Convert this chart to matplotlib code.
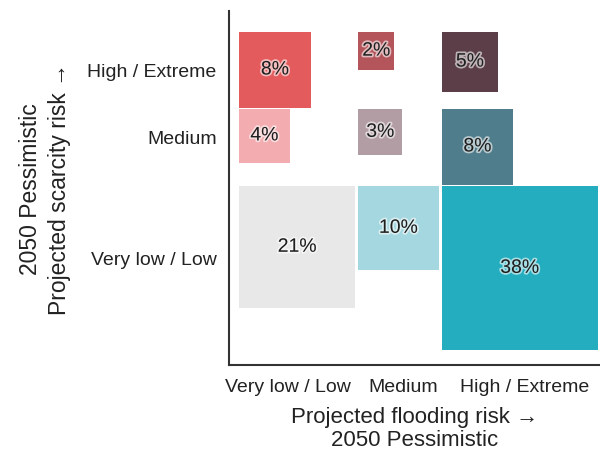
# bivariate square chart: flooding vs scarcity risk, 2050 pessimistic
import numpy as np
import matplotlib.pyplot as plt
import matplotlib.patheffects as pe
from matplotlib.patches import Rectangle

plt.rcParams["font.family"] = ["Liberation Sans", "DejaVu Sans"]

# %% data
flood_levels = ["Very low / Low", "Medium", "High / Extreme"]   # columns
scarcity_levels = ["High / Extreme", "Medium", "Very low / Low"]  # rows, top to bottom
# share of area in each cell, rows = scarcity (top->bottom), cols = flooding
pct = np.array([
    [8, 2, 5],
    [4, 3, 8],
    [21, 10, 38],
])
colors = [
    ["#e35b5d", "#b4555b", "#5b3e47"],
    ["#f3acaf", "#b39da4", "#4f7d8b"],
    ["#e8e8e8", "#a5d7e0", "#23adbf"],
]

# %% layout: each square side ~ sqrt(share), columns/rows as wide as their biggest square
side = np.sqrt(pct)
gap = 0.12
col_w = side.max(axis=0)
row_h = side.max(axis=1)
x0 = np.concatenate([[0], np.cumsum(col_w + gap)[:-1]])
y0 = np.concatenate([[0], np.cumsum(row_h + gap / 2)[:-1]])

fig = plt.figure(figsize=(6, 4.52), dpi=100)
ax = fig.add_axes([0.3817, 0.19, 0.6183, 0.7835])

halo = [pe.withStroke(linewidth=2.5, foreground="white", alpha=0.6)]
for i in range(3):
    for j in range(3):
        s = side[i, j]
        ax.add_patch(Rectangle((x0[j], y0[i]), s, s, facecolor=colors[i][j], edgecolor="none"))
        ax.text(x0[j] + s / 2, y0[i] + s / 2, f"{pct[i, j]}%", ha="center", va="center",
                fontsize=14, color="#1e1e1e", path_effects=halo)

x_end = x0[-1] + col_w[-1]
y_end = y0[-1] + row_h[-1]
ax.set_xlim(-0.4, x_end + 0.08)
ax.set_ylim(y_end + 0.55, -0.8)

# labels nudged a bit so they don't collide
ax.set_xticks(x0 + col_w / 2 + np.array([-0.35, 0.2, 0.2]))
ax.set_xticklabels(flood_levels, fontsize=14)
ax.set_yticks(y0 + row_h / 2 + np.array([0.0, -0.4, -0.4]))
ax.set_yticklabels(scarcity_levels, fontsize=14)
ax.tick_params(length=0, pad=9, colors="#222")

ax.set_xlabel("Projected flooding risk \u2192\n2050 Pessimistic", fontsize=16, color="#222",
              labelpad=8, linespacing=1.15)
ax.set_ylabel("2050 Pessimistic\nProjected scarcity risk \u2192", fontsize=16.5, color="#222",
              labelpad=12, linespacing=1.3)

for side_name in ["top", "right"]:
    ax.spines[side_name].set_visible(False)
for side_name in ["left", "bottom"]:
    ax.spines[side_name].set_color("#333")
    ax.spines[side_name].set_linewidth(1.5)

fig.savefig("out.png", dpi=100)
